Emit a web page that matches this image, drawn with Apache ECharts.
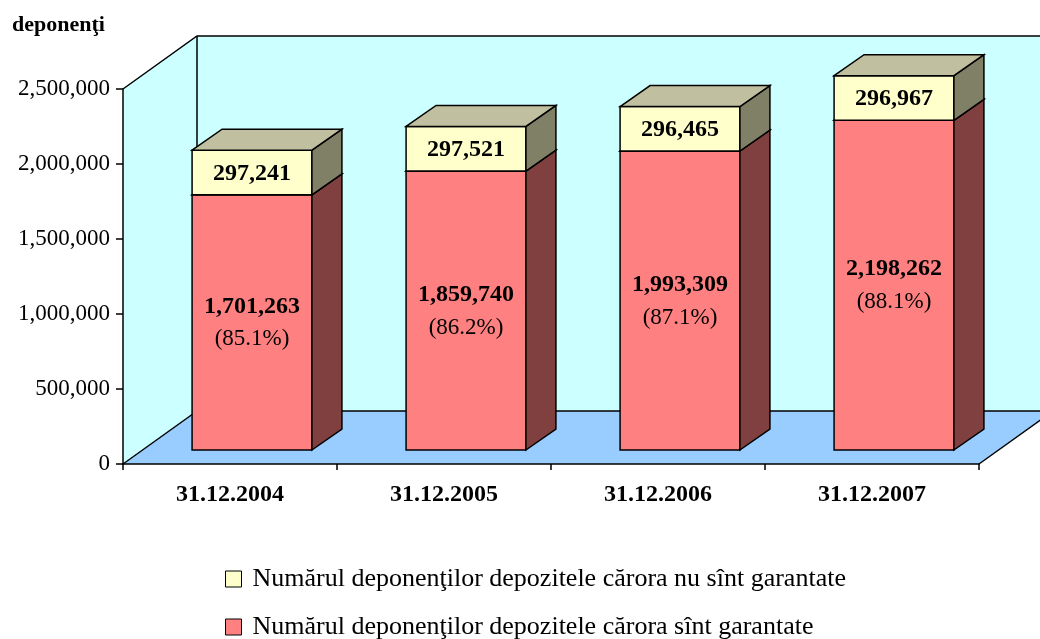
<!DOCTYPE html>
<html>
<head>
<meta charset="utf-8">
<script src="https://cdn.jsdelivr.net/npm/echarts@6/dist/echarts.min.js"></script>
<style>
  html, body { margin: 0; padding: 0; background: #ffffff; }
  #chart { width: 1040px; height: 639px; }
</style>
</head>
<body>
<div id="chart"></div>
<script>
// data
const categories = ['31.12.2004', '31.12.2005', '31.12.2006', '31.12.2007']
const garantate = [1701263, 1859740, 1993309, 2198262]
const negarantate = [297241, 297521, 296465, 296967]
const procente = ['85.1%', '86.2%', '87.1%', '88.1%']
const yTicks = [0, 500000, 1000000, 1500000, 2000000, 2500000]

const nameNu = 'Numărul deponenţilor depozitele cărora nu sînt garantate'
const nameDa = 'Numărul deponenţilor depozitele cărora sînt garantate'

const FONT = '"Liberation Serif", "Times New Roman", serif'
const WALL_DEPTH = [74, -53]
const BAR_SHIFT = [22, -14]
const BAR_DEPTH = [30, -21]

const fmt = v => v.toLocaleString('en-US')

function renderWalls(params, api) {
  const r = params.coordSys
  const dx = WALL_DEPTH[0]
  const dy = WALL_DEPTH[1]
  const x = r.x
  const y = r.y
  const w = r.width
  const h = r.height
  const line = { stroke: '#000', lineWidth: 1.5, fill: null }
  return {
    type: 'group',
    children: [
      { type: 'polygon', shape: { points: [[x, y], [x + dx, y + dy], [x + dx, y + h + dy], [x, y + h]] }, style: { fill: '#CCFFFF' } },
      { type: 'rect', shape: { x: x + dx, y: y + dy, width: w + 10, height: h }, style: { fill: '#CCFFFF' } },
      { type: 'polygon', shape: { points: [[x, y + h], [x + dx, y + h + dy], [x + w + dx, y + h + dy], [x + w, y + h]] }, style: { fill: '#99CCFF' } },
      { type: 'polyline', shape: { points: [[x, y], [x + dx, y + dy], [x + w + dx, y + dy]] }, style: line },
      { type: 'polyline', shape: { points: [[x + dx, y + dy], [x + dx, y + h + dy], [x + w + dx, y + h + dy]] }, style: line },
      { type: 'line', shape: { x1: x, y1: y + h, x2: x + dx, y2: y + h + dy }, style: line },
      { type: 'line', shape: { x1: x + w, y1: y + h, x2: x + w + dx, y2: y + h + dy }, style: line }
    ]
  }
}

function makeBarRenderer(colors, labelFn) {
  return function(params, api) {
    const cat = api.value(0)
    const base = api.value(1)
    const val = api.value(2)
    const p0 = api.coord([cat, base])
    const p1 = api.coord([cat, base + val])
    const bw = api.size([1, 0])[0] * 0.56
    const x0 = p0[0] - bw / 2 + BAR_SHIFT[0]
    const x1 = x0 + bw
    const yb = p0[1] + BAR_SHIFT[1]
    const yt = p1[1] + BAR_SHIFT[1]
    const dx = BAR_DEPTH[0]
    const dy = BAR_DEPTH[1]
    const edge = { stroke: '#000', lineWidth: 1.5 }
    const children = [
      { type: 'rect', shape: { x: x0, y: yt, width: bw, height: yb - yt }, style: Object.assign({ fill: colors[0] }, edge) },
      { type: 'polygon', shape: { points: [[x1, yb], [x1 + dx, yb + dy], [x1 + dx, yt + dy], [x1, yt]] }, style: Object.assign({ fill: colors[1] }, edge) },
      { type: 'polygon', shape: { points: [[x0, yt], [x0 + dx, yt + dy], [x1 + dx, yt + dy], [x1, yt]] }, style: Object.assign({ fill: colors[2] }, edge) }
    ]
    labelFn(params.dataIndex, (x0 + x1) / 2, (yt + yb) / 2).forEach(t => children.push(t))
    return { type: 'group', children }
  }
}

function legendItem(name, top) {
  return {
    orient: 'vertical',
    left: 225,
    top: top,
    padding: 0,
    itemWidth: 16,
    itemHeight: 16,
    icon: 'rect',
    data: [name],
    itemStyle: { borderColor: '#000', borderWidth: 1 },
    textStyle: { fontFamily: FONT, fontSize: 26, lineHeight: 16, color: '#000', padding: [0, 0, 0, 6] },
    selectedMode: false
  }
}

const chart = echarts.init(document.getElementById('chart'))
chart.setOption({
  backgroundColor: '#ffffff',
  animation: false,
  title: {
    text: 'deponenţi',
    left: 7,
    top: 9,
    textStyle: { fontFamily: FONT, fontWeight: 'bold', fontSize: 22, color: '#000' }
  },
  legend: [legendItem(nameNu, 566), legendItem(nameDa, 614)],
  grid: { left: 123, top: 89, width: 856, height: 375 },
  xAxis: {
    type: 'category',
    data: categories,
    z: 10,
    axisLine: { lineStyle: { color: '#000', width: 1.5 } },
    axisTick: { show: true, length: 6, lineStyle: { color: '#000', width: 1.5 } },
    axisLabel: { margin: 19, fontFamily: FONT, fontWeight: 'bold', fontSize: 24, color: '#000' },
    splitLine: { show: false }
  },
  yAxis: {
    type: 'value',
    min: yTicks[0],
    max: yTicks[yTicks.length - 1],
    interval: yTicks[1] - yTicks[0],
    z: 10,
    axisLine: { show: true, lineStyle: { color: '#000', width: 1.5 } },
    axisTick: { show: true, length: 7, lineStyle: { color: '#000', width: 1.5 } },
    axisLabel: { margin: 13, fontFamily: FONT, fontSize: 23, color: '#000', formatter: v => fmt(v) },
    splitLine: { show: false }
  },
  series: [
    {
      type: 'custom',
      name: 'walls',
      silent: true,
      z: 1,
      data: [[0, 0]],
      renderItem: renderWalls
    },
    {
      type: 'custom',
      name: nameDa,
      z: 3,
      itemStyle: { color: '#FF8080' },
      encode: { x: 0, y: 2 },
      data: garantate.map((v, i) => [i, 0, v]),
      renderItem: makeBarRenderer(['#FF8080', '#804040', '#C08080'], (i, cx, cy) => [
        { type: 'text', style: { text: fmt(garantate[i]), x: cx, y: cy - 16, align: 'center', verticalAlign: 'middle', font: 'bold 24px ' + FONT, fill: '#000' } },
        { type: 'text', style: { text: '(' + procente[i] + ')', x: cx, y: cy + 17, align: 'center', verticalAlign: 'middle', font: '23px ' + FONT, fill: '#000' } }
      ])
    },
    {
      type: 'custom',
      name: nameNu,
      z: 4,
      itemStyle: { color: '#FFFFCC' },
      encode: { x: 0, y: 2 },
      data: negarantate.map((v, i) => [i, garantate[i], v]),
      renderItem: makeBarRenderer(['#FFFFCC', '#808066', '#C0C0A0'], (i, cx, cy) => [
        { type: 'text', style: { text: fmt(negarantate[i]), x: cx, y: cy + 1, align: 'center', verticalAlign: 'middle', font: 'bold 24px ' + FONT, fill: '#000' } }
      ])
    }
  ]
})
</script>
</body>
</html>
